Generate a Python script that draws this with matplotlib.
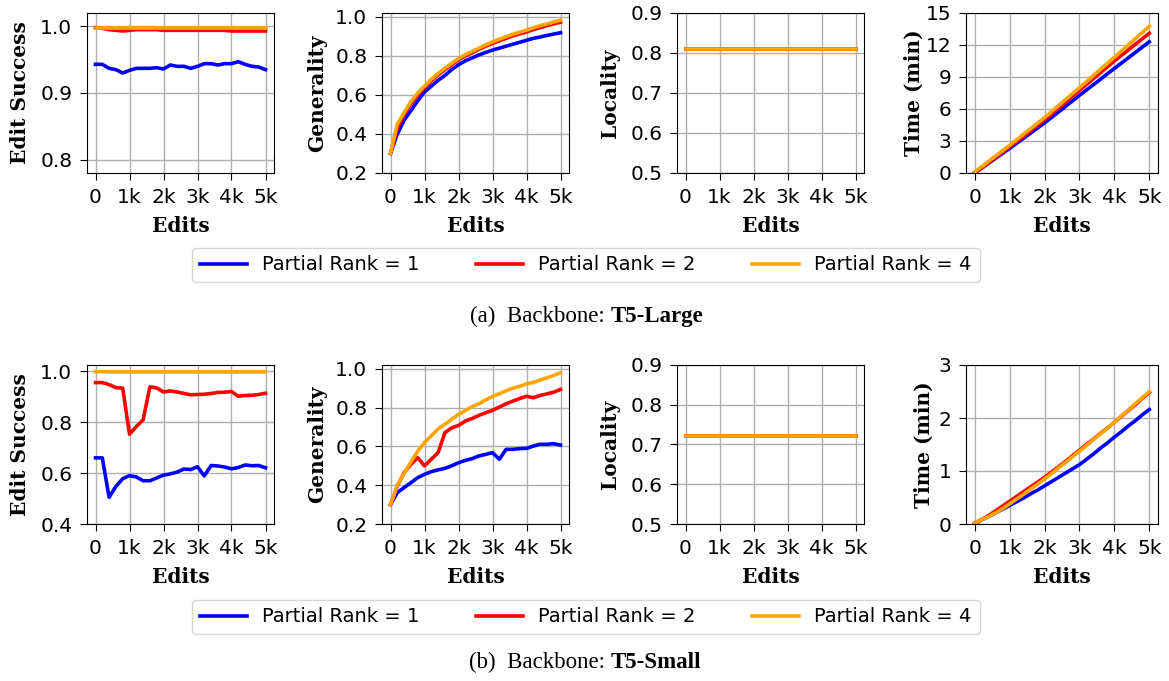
# Partial Rank ablation: Edit Success / Generality / Locality / Time vs. number of edits
# for T5-Large (a) and T5-Small (b).
import numpy as np
import matplotlib
matplotlib.use("Agg")
import matplotlib.pyplot as plt
from matplotlib.lines import Line2D

# ── data ─────────────────────────────────────────────────────────────────────
edits = np.arange(0, 5001, 200)
xticks = [0, 1000, 2000, 3000, 4000, 5000]
xticklabels = ["0", "1k", "2k", "3k", "4k", "5k"]
ranks = ["Partial Rank = 1", "Partial Rank = 2", "Partial Rank = 4"]

# T5-Large
es_large_r1 = [0.943, 0.943, 0.937, 0.935, 0.930, 0.934, 0.937, 0.937, 0.937, 0.938, 0.936, 0.942, 0.940,
               0.940, 0.937, 0.940, 0.944, 0.944, 0.942, 0.944, 0.944, 0.947, 0.943, 0.940, 0.939, 0.935]
es_large_r2 = [0.998, 0.997, 0.995, 0.994, 0.993, 0.994, 0.995, 0.995, 0.995, 0.995, 0.994, 0.994, 0.994,
               0.994, 0.994, 0.994, 0.994, 0.994, 0.994, 0.994, 0.993, 0.993, 0.993, 0.993, 0.993, 0.993]
es_large_r4 = [0.998, 0.998, 0.998, 0.998, 0.998, 0.998, 0.998, 0.998, 0.998, 0.998, 0.998, 0.998, 0.998,
               0.998, 0.998, 0.998, 0.998, 0.998, 0.998, 0.998, 0.998, 0.998, 0.998, 0.998, 0.998, 0.998]
gen_large_r1 = [0.30, 0.40, 0.47, 0.52, 0.57, 0.615, 0.645, 0.675, 0.70, 0.73, 0.755, 0.775, 0.79,
                0.805, 0.818, 0.83, 0.84, 0.85, 0.86, 0.87, 0.88, 0.89, 0.897, 0.905, 0.912, 0.919]
gen_large_r2 = [0.30, 0.43, 0.50, 0.555, 0.60, 0.637, 0.672, 0.703, 0.73, 0.755, 0.78, 0.80, 0.816,
                0.834, 0.85, 0.864, 0.878, 0.89, 0.903, 0.913, 0.923, 0.935, 0.945, 0.955, 0.964, 0.973]
gen_large_r4 = [0.30, 0.45, 0.51, 0.565, 0.61, 0.645, 0.68, 0.71, 0.737, 0.762, 0.787, 0.807, 0.823,
                0.84, 0.857, 0.872, 0.886, 0.899, 0.911, 0.922, 0.932, 0.944, 0.955, 0.964, 0.974, 0.983]
loc_large_r1 = [0.81, 0.81, 0.81, 0.81, 0.81, 0.81, 0.81, 0.81, 0.81, 0.81, 0.81, 0.81, 0.81,
                0.81, 0.81, 0.81, 0.81, 0.81, 0.81, 0.81, 0.81, 0.81, 0.81, 0.81, 0.81, 0.81]
loc_large_r2 = list(loc_large_r1)
loc_large_r4 = list(loc_large_r1)
time_large_r1 = [0.0, 0.45, 0.92, 1.38, 1.84, 2.3, 2.78, 3.26, 3.74, 4.22, 4.7, 5.21, 5.72,
                 6.24, 6.76, 7.28, 7.78, 8.28, 8.78, 9.3, 9.8, 10.3, 10.8, 11.3, 11.8, 12.3]
time_large_r2 = [0.0, 0.48, 0.97, 1.46, 1.95, 2.45, 2.95, 3.45, 3.96, 4.48, 5.0, 5.54, 6.09,
                 6.64, 7.2, 7.75, 8.3, 8.85, 9.4, 9.95, 10.5, 11.02, 11.54, 12.06, 12.58, 13.1]
time_large_r4 = [0.1, 0.6, 1.1, 1.6, 2.1, 2.6, 3.12, 3.64, 4.16, 4.68, 5.2, 5.76, 6.32,
                 6.88, 7.44, 8.0, 8.57, 9.14, 9.71, 10.28, 10.85, 11.43, 12.01, 12.59, 13.17, 13.75]

# T5-Small
es_small_r1 = [0.660, 0.660, 0.505, 0.548, 0.578, 0.590, 0.585, 0.570, 0.570, 0.581, 0.592, 0.597, 0.604,
               0.616, 0.614, 0.625, 0.589, 0.630, 0.628, 0.624, 0.617, 0.622, 0.632, 0.629, 0.630, 0.621]
es_small_r2 = [0.956, 0.956, 0.948, 0.936, 0.934, 0.753, 0.783, 0.809, 0.939, 0.935, 0.919, 0.923, 0.919,
               0.913, 0.908, 0.909, 0.910, 0.913, 0.917, 0.918, 0.921, 0.902, 0.905, 0.906, 0.909, 0.914]
es_small_r4 = [0.999, 0.999, 0.998, 0.998, 0.998, 0.998, 0.998, 0.998, 0.998, 0.998, 0.998, 0.998, 0.998,
               0.998, 0.998, 0.998, 0.998, 0.998, 0.998, 0.998, 0.998, 0.998, 0.998, 0.998, 0.998, 0.998]
gen_small_r1 = [0.30, 0.362, 0.388, 0.413, 0.439, 0.456, 0.470, 0.479, 0.487, 0.500, 0.516, 0.528, 0.537,
                0.551, 0.559, 0.568, 0.534, 0.585, 0.585, 0.589, 0.590, 0.602, 0.611, 0.611, 0.614, 0.607]
gen_small_r2 = [0.30, 0.396, 0.465, 0.508, 0.542, 0.500, 0.534, 0.568, 0.671, 0.696, 0.708, 0.731, 0.744,
                0.760, 0.774, 0.786, 0.803, 0.820, 0.834, 0.847, 0.859, 0.851, 0.863, 0.871, 0.880, 0.894]
gen_small_r4 = [0.30, 0.40, 0.46, 0.52, 0.575, 0.62, 0.655, 0.69, 0.715, 0.74, 0.765, 0.785, 0.805,
                0.82, 0.84, 0.857, 0.872, 0.887, 0.90, 0.91, 0.923, 0.93, 0.942, 0.954, 0.966, 0.98]
loc_small_r1 = [0.722, 0.722, 0.722, 0.722, 0.722, 0.722, 0.722, 0.722, 0.722, 0.722, 0.722, 0.722, 0.722,
                0.722, 0.722, 0.722, 0.722, 0.722, 0.722, 0.722, 0.722, 0.722, 0.722, 0.722, 0.722, 0.722]
loc_small_r2 = list(loc_small_r1)
loc_small_r4 = list(loc_small_r1)
time_small_r1 = [0.02, 0.08, 0.14, 0.21, 0.28, 0.35, 0.42, 0.49, 0.57, 0.64, 0.72, 0.8, 0.88,
                 0.96, 1.04, 1.12, 1.22, 1.32, 1.43, 1.53, 1.64, 1.74, 1.85, 1.95, 2.06, 2.16]
time_small_r2 = [0.0, 0.08, 0.16, 0.25, 0.34, 0.43, 0.52, 0.61, 0.7, 0.79, 0.88, 0.98, 1.08,
                 1.18, 1.29, 1.39, 1.5, 1.6, 1.71, 1.81, 1.92, 2.03, 2.14, 2.25, 2.37, 2.48]
time_small_r4 = [0.02, 0.08, 0.14, 0.21, 0.29, 0.38, 0.47, 0.56, 0.66, 0.75, 0.85, 0.95, 1.06,
                 1.16, 1.27, 1.37, 1.48, 1.59, 1.7, 1.81, 1.92, 2.04, 2.15, 2.27, 2.38, 2.5]

# ── style ────────────────────────────────────────────────────────────────────
COLORS = ["blue", "red", "orange"]
LW = 2.6
W, H = 1169, 681
LABEL_FONT = dict(family="DejaVu Serif", weight="bold", size=14.5)

fig = plt.figure(figsize=(W / 100, H / 100), dpi=100)


def px_axes(x0, x1, y0, y1):
    # axes from pixel box (top-left origin)
    return fig.add_axes([x0 / W, 1 - y1 / H, (x1 - x0) / W, (y1 - y0) / H])


def panel(ax, series, ylabel, ylim, yticks, ytl, ypad):
    for s, c in zip(series, COLORS):
        ax.plot(edits, s, color=c, lw=LW)
    ax.set_xticks(xticks)
    ax.set_xticklabels(xticklabels)
    ax.set_yticks(yticks)
    if ytl is not None:
        ax.set_yticklabels(ytl)
    ax.set_ylim(*ylim)
    ax.set_xlim(-250, 5250)
    ax.grid(True, color="#b0b0b0", lw=1.0)
    ax.set_axisbelow(True)
    ax.tick_params(labelsize=14.5, length=5, pad=5.5)
    ax.set_xlabel("Edits", labelpad=6.5, **LABEL_FONT)
    ax.set_ylabel(ylabel, labelpad=ypad, **LABEL_FONT)


xs = [(87, 274), (382, 569), (677, 864), (966, 1158)]
rows = [(13, 173), (365, 524)]

large = [
    ([es_large_r1, es_large_r2, es_large_r4], "Edit Success", (0.78, 1.02), [0.8, 0.9, 1.0], None, 7.6),
    ([gen_large_r1, gen_large_r2, gen_large_r4], "Generality", (0.2, 1.02), [0.2, 0.4, 0.6, 0.8, 1.0], None, 6.2),
    ([loc_large_r1, loc_large_r2, loc_large_r4], "Locality", (0.5, 0.9), [0.5, 0.6, 0.7, 0.8, 0.9], None, 7.6),
    ([time_large_r1, time_large_r2, time_large_r4], "Time (min)", (0, 15), [0, 3, 6, 9, 12, 15],
     ["0", "3", "6", "9", "12", "15"], 1.5),
]
small = [
    ([es_small_r1, es_small_r2, es_small_r4], "Edit Success", (0.4, 1.025), [0.4, 0.6, 0.8, 1.0], None, 7.6),
    ([gen_small_r1, gen_small_r2, gen_small_r4], "Generality", (0.2, 1.02), [0.2, 0.4, 0.6, 0.8, 1.0], None, 6.2),
    ([loc_small_r1, loc_small_r2, loc_small_r4], "Locality", (0.5, 0.9), [0.5, 0.6, 0.7, 0.8, 0.9], None, 7.6),
    ([time_small_r1, time_small_r2, time_small_r4], "Time (min)", (0, 3), [0, 1, 2, 3],
     ["0", "1", "2", "3"], 3.3),
]

for (y0, y1), specs in zip(rows, [large, small]):
    for (x0, x1), (series, yl, ylim, yt, ytl, ypad) in zip(xs, specs):
        ax = px_axes(x0, x1, y0, y1)
        panel(ax, series, yl, ylim, yt, ytl, ypad)

# ── legends + captions ───────────────────────────────────────────────────────
handles = [Line2D([0], [0], color=c, lw=LW, label=r) for c, r in zip(COLORS, ranks)]
for cy in (265, 617):
    fig.legend(handles=handles, loc="center", bbox_to_anchor=(586 / W, 1 - cy / H), ncol=3,
               fontsize=14, frameon=True, edgecolor="#cccccc", columnspacing=2.9,
               handlelength=2.4, handletextpad=0.8)

CAP = dict(family="Liberation Serif", size=16.5, va="center")
for cy, tag, model in [(316, "(a)  Backbone:", "T5-Large"), (662, "(b)  Backbone:", "T5-Small")]:
    fig.text(605 / W, 1 - cy / H, tag, ha="right", **CAP)
    fig.text(611 / W, 1 - cy / H, model, ha="left", weight="bold", **CAP)

fig.savefig("out.png", dpi=100)
